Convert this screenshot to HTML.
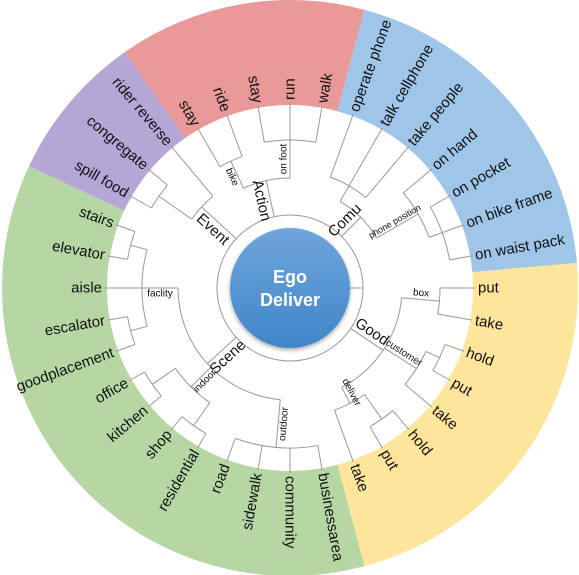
<!DOCTYPE html>
<html><head><meta charset="utf-8"><style>
html,body{margin:0;padding:0;background:#fff;width:579px;height:575px;overflow:hidden}
svg{display:block;font-family:"Liberation Sans",sans-serif}
</style></head><body>
<svg id="chart" width="579" height="575" viewBox="0 0 579 575">
<defs>
<linearGradient id="bg" x1="0" y1="0" x2="0" y2="1"><stop offset="0" stop-color="#6fa6dc"/><stop offset="1" stop-color="#3f85c8"/></linearGradient>
<filter id="sh" x="-20%" y="-20%" width="140%" height="140%"><feDropShadow dx="0" dy="2" stdDeviation="2" flood-color="#000" flood-opacity="0.35"/></filter>
</defs>
<g id="sectors"></g>
<g id="tree"></g>
<g id="labels"></g>
<circle cx="290" cy="288" r="60" fill="url(#bg)" filter="url(#sh)"/>
<text x="290" y="283" text-anchor="middle" font-size="18" font-weight="bold" fill="#fff">Ego</text>
<text x="290" y="306" text-anchor="middle" font-size="18" font-weight="bold" fill="#fff">Deliver</text>
</svg>
<script>
const leafNames = ["put","take","hold","put","take","hold","put","take",
 "businessarea","community","sidewalk","road","residential","shop","kitchen","office","goodplacement","escalator","aisle","elevator","stairs",
 "spill food","congregate","rider reverse",
 "stay","ride","stay","run","walk",
 "operate phone","talk cellphone","take people","on hand","on pocket","on bike frame","on waist pack"];
const sectorNames = ["good","scene","event","action","comu"];
const sectorStart = [-5,75,205,235,285];
const sectorEnd = [75,205,235,285,355];
const sectorColors = ["#fde59b","#b6d7a4","#b4a7d6","#ea9999","#9fc5e8"];
const STEP = 10;
const CX=290, CY=288, R_IN=183, R_OUT=288, R_LEAF=185, R_ROOT=73;
const tree = {label:"",r:R_ROOT,kids:[
 {label:"Good",fs:15,r:112,kids:[
   {label:"box",fs:10,r:150,kids:[0,1]},
   {label:"customer",fs:10,r:150,kids:[{r:165,kids:[2,3]},4]},
   {label:"deliver",fs:10,r:130,kids:[{r:160,kids:[5,6]},7]}]},
 {label:"Scene",fs:15,r:112,kids:[
   {label:"outdoor",fs:10,r:160,kids:[8,9,10,11]},
   {label:"indoor",fs:10,r:140,kids:[{r:168,kids:[12,13]},{r:168,kids:[14,15]}]},
   {label:"faclity",fs:10,r:148,kids:[{r:165,kids:[16,17]},18,{r:165,kids:[19,20]}]}]},
 {label:"Event",fs:15,r:120,kids:[{r:160,kids:[21,22]},23]},
 {label:"Action",fs:15,r:110,kids:[
   {label:"bike",fs:10,r:140,kids:[24,25]},
   {label:"on foot",fs:10,r:148,kids:[26,27,28]}]},
 {label:"Comu",fs:15,r:100,kids:[
   {r:118,kids:[29,30,31]},
   {label:"phone position",fs:9,r:148,kids:[32,{r:162,kids:[33,34,35]}]}]}
]};
const NS="http://www.w3.org/2000/svg";
const rad=d=>d*Math.PI/180;
const px=(r,a)=>CX+r*Math.cos(rad(a)), py=(r,a)=>CY+r*Math.sin(rad(a));
function mk(tag,attrs,parent){const e=document.createElementNS(NS,tag);for(const k in attrs)e.setAttribute(k,attrs[k]);parent.appendChild(e);return e;}
const gS=document.getElementById('sectors'),gT=document.getElementById('tree'),gL=document.getElementById('labels');
// sectors
sectorNames.forEach((n,i)=>{
 const a1=sectorStart[i],a2=sectorEnd[i],lg=(a2-a1)>180?1:0;
 const d=`M${px(R_OUT,a1)},${py(R_OUT,a1)} A${R_OUT},${R_OUT} 0 ${lg} 1 ${px(R_OUT,a2)},${py(R_OUT,a2)} L${px(R_IN,a2)},${py(R_IN,a2)} A${R_IN},${R_IN} 0 ${lg} 0 ${px(R_IN,a1)},${py(R_IN,a1)}Z`;
 const p=mk('path',{d:d,fill:sectorColors[i]},gS);
 
 
});
function angOf(n){ if(typeof n==='number') return n*STEP; const as=n.kids.map(angOf); return (Math.min(...as)+Math.max(...as))/2; }
function rOf(n){ return typeof n==='number'?R_LEAF:n.r; }
const LS={stroke:"#999","stroke-width":1,fill:"none"};
function rotText(label,r,a,fs,anchorOut,name,dy){
 let norm=((a%360)+360)%360; const left=norm>90&&norm<270;
 const x=px(r,a),y=py(r,a);
 const rot=left?a-180:a;
 let anchor=anchorOut?(left?'end':'start'):'middle';
 const t=mk('text',{x:x,y:y,'font-size':fs,'text-anchor':anchor,'dominant-baseline':'central',fill:'#111',transform:`rotate(${rot} ${x} ${y})`},gL);
 if(dy) t.setAttribute('dy',dy);
 t.textContent=label;
 
 
}
function draw(n,parentR){
 const a=angOf(n), r=rOf(n);
 const ln=mk('line',Object.assign({x1:px(parentR,a),y1:py(parentR,a),x2:px(r,a),y2:py(r,a)},LS),gT);
 
 
 if(typeof n==='number'){
  rotText(leafNames[n],R_LEAF+3,a,15,true,'leaf-label-'+leafNames[n].replace(/ /g,'-'),0);
  return;
 }
 if(n.label){
  const left=(((a%360)+360)%360)>90&&(((a%360)+360)%360)<270;
  rotText(n.label,(parentR+r)/2,a,n.fs,false,'node-label-'+n.label.replace(/ /g,'-').toLowerCase(),left?n.fs*0.6:-n.fs*0.6);
 }
 const as=n.kids.map(angOf), a1=Math.min(...as), a2=Math.max(...as), lg=(a2-a1)>180?1:0;
 const arc=mk('path',Object.assign({d:`M${px(r,a1)},${py(r,a1)} A${r},${r} 0 ${lg} 1 ${px(r,a2)},${py(r,a2)}`},LS),gT);
 
 
 n.kids.forEach(k=>draw(k,r));
}
// root ring and connector
const ring=mk('circle',Object.assign({cx:CX,cy:CY,r:R_ROOT},LS),gT);


const con=mk('line',Object.assign({x1:CX+60,y1:CY,x2:CX+R_ROOT,y2:CY},LS),gT);


tree.kids.forEach(k=>draw(k,R_ROOT));
</script>
</body></html>
